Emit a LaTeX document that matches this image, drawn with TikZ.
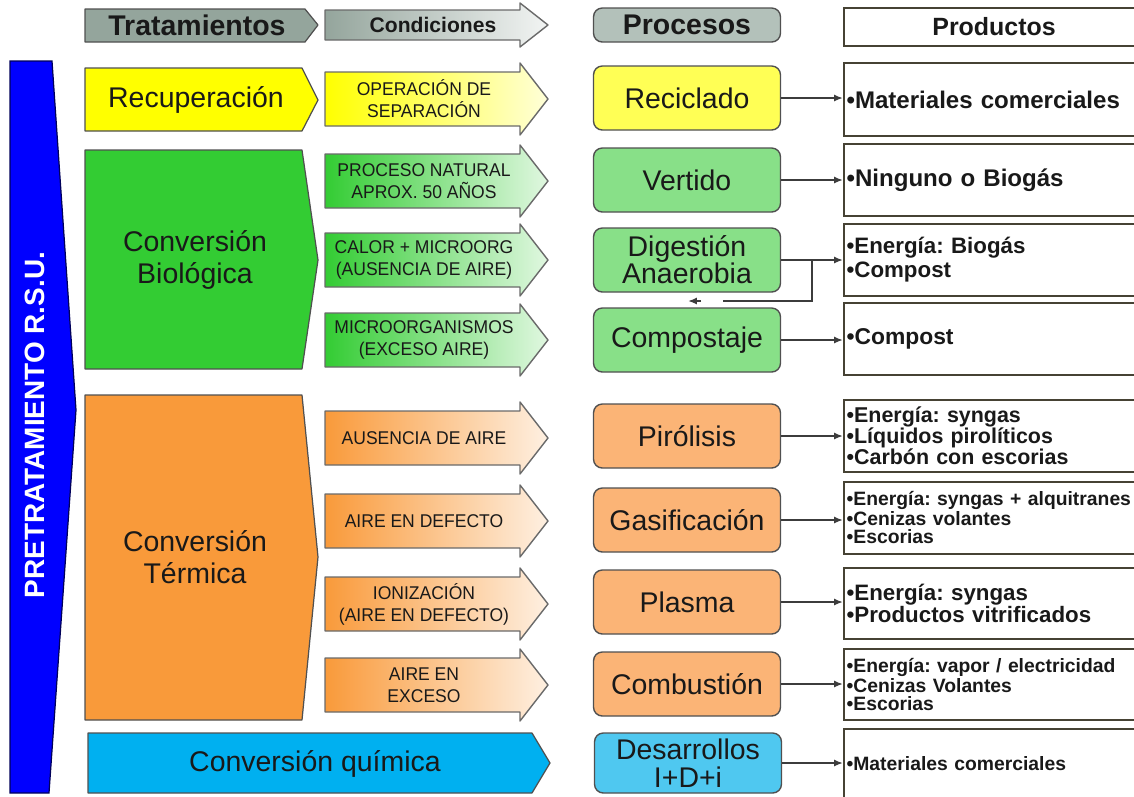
\documentclass[tikz,border=0pt]{standalone}
\usepackage{fontspec}
\setmainfont{Liberation Sans}
\newfontfamily\condfont[FakeStretch=0.95]{Liberation Sans}
\usetikzlibrary{arrows.meta}
\frenchspacing

\definecolor{preblue}{RGB}{0,0,255}
\definecolor{hdrgray}{RGB}{148,165,156}
\definecolor{prcgray}{RGB}{179,193,186}
\definecolor{yelA}{RGB}{255,255,0}
\definecolor{yelP}{RGB}{255,255,85}
\definecolor{grnA}{RGB}{51,204,51}
\definecolor{grnP}{RGB}{136,224,136}
\definecolor{orgA}{RGB}{249,154,58}
\definecolor{orgP}{RGB}{251,180,118}
\definecolor{bluA}{RGB}{0,176,240}
\definecolor{bluP}{RGB}{79,200,240}
\definecolor{edge}{RGB}{80,80,80}
\definecolor{prodedge}{RGB}{70,66,52}
\definecolor{ink}{RGB}{25,25,25}

\begin{document}
\begin{tikzpicture}[x=0.02cm, y=-0.02cm,
    tratbox/.style={draw=edge, line width=0.7pt, line join=round},
    condarrow/.style={draw=edge!85, line width=0.8pt, line join=round},
    tratxt/.style={font=\fontsize{16.2}{18.2}\selectfont, align=center, text=ink},
    condtxt/.style={font=\condfont\fontsize{10.5}{12.5}\selectfont, align=center, text=ink},
    proc/.style={draw=edge, line width=0.8pt, rounded corners=5pt, minimum width=3.74cm,
      minimum height=1.28cm, align=center, inner sep=1pt, text=ink,
      font=\fontsize{16.2}{15.4}\selectfont},
    prod/.style={draw=prodedge, line width=1.1pt, anchor=north west, text width=5.9cm,
      align=left, inner xsep=1.5pt, text=ink},
    conn/.style={draw=ink!85, line width=1.1pt, -{Latex[length=5pt,width=4pt]}}]
  \useasboundingbox (0,0) rectangle (1134,796);

  % pretratamiento bar
  \filldraw[draw=blue!35!black, fill=preblue, line width=0.7pt]
    (10,61) -- (52,61) -- (76,410) -- (49,793) -- (10,793) -- cycle;
  \node[rotate=90, text=white, font=\bfseries\fontsize{15.9}{18}\selectfont] (pre) at (35,425)
    {PRETRATAMIENTO R.S.U.};

  % header row
  \filldraw[tratbox, fill=hdrgray] (85,9) -- (305,9) -- (318,25) -- (305,42) -- (85,42) -- cycle;
  \node[font=\bfseries\fontsize{16.2}{18}\selectfont, text=ink] (trat) at (197,25) {Tratamientos};
  \shadedraw[condarrow, left color=hdrgray, right color=hdrgray!12!white]
    (325,10) -- (520,10) -- (520,3) -- (548,25) -- (520,47) -- (520,40) -- (325,40) -- cycle;
  \node[font=\bfseries\fontsize{12}{14}\selectfont, text=ink] (cond) at (433,25) {Condiciones};
  \node[proc, fill=prcgray, minimum height=0.68cm, font=\bfseries\fontsize{16.2}{18}\selectfont]
    (procs) at (687,25) {Procesos};
  \node[prod, minimum height=0.76cm, align=center, font=\bfseries\fontsize{14.2}{16}\selectfont]
    (prods) at (843,7) {Productos};

  % treatments
  \foreach \t/\b/\m/\c in {68/131/100/yelA, 150/369/260/grnA, 395/720/557/orgA}
    \filldraw[tratbox, fill=\c] (85,\t) -- (302,\t) -- (318,\m) -- (302,\b) -- (85,\b) -- cycle;
  \filldraw[tratbox, fill=bluA] (88,733) -- (532,733) -- (550,763) -- (532,793) -- (88,793) -- cycle;
  \node[tratxt] (recup) at (196,100) {Recuperación};
  \node[tratxt] (biol) at (195,260) {Conversión\\Biológica};
  \node[tratxt] (term) at (195,557) {Conversión\\Térmica};
  \node[tratxt] (quim) at (315,764) {Conversión química};

  % conditions
  \foreach \y/\c/\t [count=\i] in {99/yelA/{OPERACIÓN DE\\SEPARACIÓN},
      181/grnA/{PROCESO NATURAL\\APROX. 50 AÑOS}, 260/grnA/{CALOR + MICROORG\\(AUSENCIA DE AIRE)},
      340/grnA/{MICROORGANISMOS\\(EXCESO AIRE)}, 438/orgA/{AUSENCIA DE AIRE},
      521/orgA/{AIRE EN DEFECTO}, 604/orgA/{IONIZACIÓN\\(AIRE EN DEFECTO)},
      685/orgA/{AIRE EN\\EXCESO}} {
    \shadedraw[condarrow, left color=\c, right color=\c!15!white]
      (325,\y-27) -- (520,\y-27) -- (520,\y-36) -- (548,\y) -- (520,\y+36) -- (520,\y+27)
      -- (325,\y+27) -- cycle;
    \node[condtxt] (cond\i) at (424,\y) {\t};
  }

  % processes
  \node[proc, fill=yelP] (rec) at (687,98) {Reciclado};
  \node[proc, fill=grnP] (ver) at (687,180) {Vertido};
  \node[proc, fill=grnP] (dig) at (687,260) {Digestión\\Anaerobia};
  \node[proc, fill=grnP] (cmp) at (687,340) {Compostaje};
  \node[proc, fill=orgP] (pir) at (687,436) {Pirólisis};
  \node[proc, fill=orgP] (gas) at (687,520) {Gasificación};
  \node[proc, fill=orgP] (pla) at (687,602) {Plasma};
  \node[proc, fill=orgP] (com) at (687,684) {Combustión};
  \node[proc, fill=bluP, minimum height=1.2cm, font=\fontsize{16.2}{16}\selectfont]
    (des) at (688,763) {Desarrollos\\I+D+i};

  % products
  \node[prod, minimum height=1.46cm, font=\bfseries\fontsize{13.7}{15}\selectfont] (p1) at (843,62)
    {•Materiales comerciales};
  \node[prod, minimum height=1.44cm, font=\bfseries\fontsize{13.7}{15}\selectfont] (p2) at (843,143)
    {•Ninguno o Biogás};
  \node[prod, minimum height=1.44cm, font=\bfseries\fontsize{12.7}{13.7}\selectfont] (p3) at (843,223)
    {•Energía: Biogás\\•Compost};
  \node[prod, minimum height=1.44cm, font=\bfseries\fontsize{13}{15}\selectfont] (p4) at (843,302)
    {•Compost};
  \node[prod, minimum height=1.44cm, font=\bfseries\fontsize{12.2}{12}\selectfont] (p5) at (843,399)
    {•Energía: syngas\\•Líquidos pirolíticos\\•Carbón con escorias};
  \node[prod, minimum height=1.44cm, font=\bfseries\fontsize{11}{10.3}\selectfont] (p6) at (843,481)
    {•Energía: syngas + alquitranes\\•Cenizas volantes\\•Escorias};
  \node[prod, minimum height=1.42cm, font=\bfseries\fontsize{12.7}{13}\selectfont] (p7) at (843,567)
    {•Energía: syngas\\•Productos vitrificados};
  \node[prod, minimum height=1.42cm, font=\bfseries\fontsize{11}{10.3}\selectfont] (p8) at (843,648)
    {•Energía: vapor / electricidad\\•Cenizas Volantes\\•Escorias};
  \node[prod, minimum height=1.4cm, font=\bfseries\fontsize{11}{12}\selectfont] (p9) at (843,728)
    {•Materiales comerciales};

  % connectors
  \foreach \p/\q in {rec/p1, ver/p2, dig/p3, cmp/p4, pir/p5, gas/p6, pla/p7, com/p8, des/p9}
    \draw[conn] (\p.east) -- (\p.east -| \q.west);
  \coordinate (br) at (812,260);
  \coordinate (bk) at (723,301);
  \coordinate (tipc) at (688,301);
  \draw[conn, -] (br) |- (bk);
  \draw[conn] (tipc) ++(13,0) -- (tipc);
\end{tikzpicture}
\end{document}
